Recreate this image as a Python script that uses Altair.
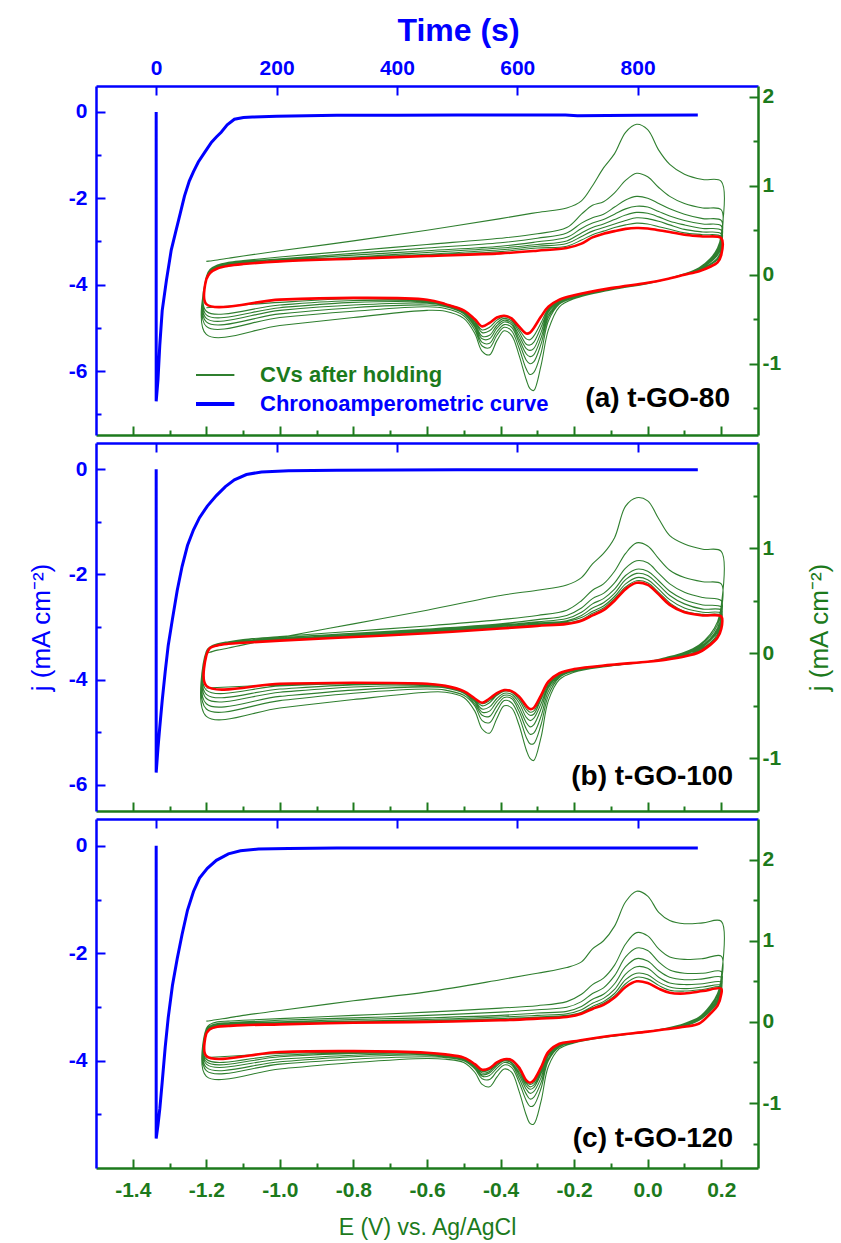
import altair as alt
import pandas as pd

FONT = "Liberation Sans"
BLUE = "#0000ff"
AXIS_GREEN = "#1c7a1c"
CV_GREEN = "#2f7f2f"
RED = "#ff0000"

# ---- axis domains and ticks -------------------------------------------------
TIME_DOMAIN = [-100, 1000]
TIME_TICKS = [0, 200, 400, 600, 800]
E_DOMAIN = [-1.5, 0.3]
E_MAJOR = [-1.4, -1.2, -1.0, -0.8, -0.6, -0.4, -0.2, 0.0, 0.2]
E_MINOR = [-1.3, -1.1, -0.9, -0.7, -0.5, -0.3, -0.1, 0.1]
LEFT_DOMAINS = [[-7.48, 0.6], [-6.5, 0.5], [-6.0, 0.5]]
LEFT_MAJOR = [[-6, -4, -2, 0], [-6, -4, -2, 0], [-4, -2, 0]]
LEFT_MINOR = [[-7, -5, -3, -1], [-5, -3, -1], [-5, -3, -1]]
RIGHT_DOMAINS = [[-1.8, 2.12], [-1.5, 2.0], [-1.8, 2.5]]
RIGHT_MAJOR = [[-1, 0, 1, 2], [-1, 0, 1], [-1, 0, 1, 2]]
RIGHT_MINOR = [[-1.5, -0.5, 0.5, 1.5], [-0.5, 0.5, 1.5], [-1.5, -0.5, 0.5, 1.5]]
SAMPLE_LABELS = ["(a) t-GO-80", "(b) t-GO-100", "(c) t-GO-120"]

# ---- chronoamperometric curves (time in s, j in mA cm-2) ---------------------
CA1_T = [0, 0, 3, 6, 10, 17, 25, 32, 40, 47, 55, 62, 70, 80, 92, 100, 108, 118,
         130, 145, 160, 200, 250, 300, 400, 500, 600, 680, 700, 800, 900]
CA1_J = [0, -6.7, -6.2, -5.4, -4.6, -3.9, -3.2, -2.8, -2.35, -1.95, -1.6, -1.38,
         -1.16, -0.95, -0.70, -0.58, -0.47, -0.30, -0.17, -0.13, -0.12, -0.10,
         -0.09, -0.08, -0.08, -0.07, -0.07, -0.07, -0.09, -0.08, -0.07]
CA2_T = [0, 0, 3, 6, 10, 15, 20, 27, 35, 43, 52, 62, 72, 85, 100, 115, 130, 150,
         175, 220, 300, 500, 700, 900]
CA2_J = [0, -5.77, -5.3, -4.9, -4.4, -3.85, -3.35, -2.85, -2.3, -1.85, -1.45,
         -1.15, -0.92, -0.70, -0.50, -0.33, -0.20, -0.10, -0.05, -0.03, -0.02,
         -0.01, -0.01, -0.01]
CA3_T = [0, 0, 3, 6, 10, 15, 20, 27, 35, 43, 52, 62, 72, 85, 100, 120, 140, 170,
         220, 300, 500, 700, 900]
CA3_J = [0, -5.45, -5.2, -4.9, -4.4, -3.75, -3.2, -2.6, -2.1, -1.65, -1.2, -0.85,
         -0.6, -0.42, -0.27, -0.15, -0.09, -0.06, -0.05, -0.04, -0.04, -0.04, -0.04]

# ---- CV potential grids (V vs. Ag/AgCl) --------------------------------------
E_ANODIC = [-1.2, -1.19, -1.17, -1.14, -1.1, -1.0, -0.8, -0.6, -0.4, -0.3, -0.22,
            -0.18, -0.15, -0.12, -0.09, -0.06, -0.03, 0.0, 0.03, 0.06, 0.1, 0.15, 0.2]
E_CATHODIC = [0.2, 0.19, 0.17, 0.14, 0.1, 0.05, 0.0, -0.1, -0.2, -0.24, -0.27,
              -0.29, -0.31, -0.32, -0.33, -0.35, -0.37, -0.39, -0.41, -0.43, -0.45,
              -0.47, -0.5, -0.55, -0.6, -0.8, -1.0, -1.2]

# CV current densities, one row per cycle (first seven green, last one red)
P1_ANODIC = [
    [0.15, 0.155, 0.165, 0.185, 0.21, 0.27, 0.38, 0.50, 0.63, 0.70, 0.75, 0.83, 1.00, 1.20, 1.36, 1.60, 1.69, 1.63, 1.40, 1.24, 1.13, 1.07, 1.05],
    [-0.02, 0.06, 0.11, 0.14, 0.16, 0.20, 0.27, 0.34, 0.41, 0.46, 0.53, 0.68, 0.78, 0.82, 0.92, 1.06, 1.14, 1.10, 0.98, 0.88, 0.80, 0.75, 0.73],
    [-0.03, 0.05, 0.10, 0.13, 0.15, 0.18, 0.24, 0.30, 0.36, 0.41, 0.47, 0.58, 0.64, 0.68, 0.76, 0.84, 0.88, 0.86, 0.80, 0.74, 0.68, 0.63, 0.61],
    [-0.04, 0.04, 0.09, 0.12, 0.14, 0.17, 0.22, 0.27, 0.32, 0.37, 0.42, 0.52, 0.58, 0.62, 0.68, 0.74, 0.77, 0.76, 0.71, 0.66, 0.61, 0.57, 0.55],
    [-0.04, 0.03, 0.08, 0.11, 0.13, 0.16, 0.20, 0.25, 0.30, 0.34, 0.38, 0.47, 0.53, 0.57, 0.62, 0.67, 0.70, 0.69, 0.65, 0.60, 0.56, 0.52, 0.50],
    [-0.05, 0.03, 0.08, 0.11, 0.13, 0.155, 0.19, 0.23, 0.28, 0.32, 0.35, 0.43, 0.49, 0.53, 0.57, 0.61, 0.64, 0.63, 0.60, 0.56, 0.51, 0.48, 0.46],
    [-0.05, 0.02, 0.07, 0.10, 0.12, 0.15, 0.185, 0.22, 0.26, 0.30, 0.32, 0.39, 0.45, 0.49, 0.53, 0.56, 0.58, 0.57, 0.54, 0.51, 0.47, 0.45, 0.43],
    [-0.05, 0.02, 0.07, 0.10, 0.12, 0.15, 0.18, 0.21, 0.24, 0.27, 0.30, 0.35, 0.42, 0.46, 0.49, 0.515, 0.525, 0.52, 0.50, 0.48, 0.45, 0.43, 0.41],
]
P1_CATHODIC = [
    [0.45, 0.30, 0.18, 0.08, 0.01, -0.05, -0.10, -0.17, -0.27, -0.36, -0.62, -1.02, -1.30, -1.28, -1.18, -0.90, -0.68, -0.63, -0.74, -0.90, -0.86, -0.66, -0.49, -0.41, -0.40, -0.48, -0.57, -0.67],
    [0.42, 0.28, 0.17, 0.07, 0.01, -0.05, -0.10, -0.16, -0.26, -0.33, -0.52, -0.88, -1.10, -1.12, -1.06, -0.82, -0.63, -0.59, -0.68, -0.82, -0.80, -0.62, -0.46, -0.38, -0.36, -0.41, -0.48, -0.58],
    [0.38, 0.26, 0.16, 0.07, 0.01, -0.05, -0.10, -0.16, -0.25, -0.32, -0.48, -0.78, -0.98, -1.00, -0.96, -0.76, -0.59, -0.56, -0.64, -0.77, -0.76, -0.59, -0.44, -0.36, -0.34, -0.37, -0.44, -0.53],
    [0.35, 0.24, 0.15, 0.06, 0.01, -0.05, -0.10, -0.16, -0.25, -0.31, -0.45, -0.71, -0.90, -0.92, -0.89, -0.72, -0.56, -0.53, -0.60, -0.72, -0.72, -0.57, -0.43, -0.35, -0.32, -0.34, -0.40, -0.49],
    [0.32, 0.22, 0.14, 0.06, 0.00, -0.05, -0.10, -0.16, -0.24, -0.30, -0.42, -0.65, -0.83, -0.85, -0.83, -0.68, -0.54, -0.51, -0.57, -0.68, -0.69, -0.55, -0.42, -0.34, -0.31, -0.31, -0.37, -0.45],
    [0.29, 0.19, 0.12, 0.05, 0.00, -0.05, -0.09, -0.16, -0.24, -0.29, -0.40, -0.59, -0.76, -0.79, -0.78, -0.64, -0.52, -0.49, -0.54, -0.63, -0.65, -0.53, -0.41, -0.34, -0.30, -0.29, -0.34, -0.41],
    [0.26, 0.17, 0.11, 0.05, 0.00, -0.05, -0.09, -0.15, -0.23, -0.29, -0.38, -0.54, -0.69, -0.73, -0.72, -0.61, -0.50, -0.47, -0.51, -0.59, -0.62, -0.52, -0.40, -0.33, -0.29, -0.27, -0.31, -0.37],
    [0.22, 0.14, 0.09, 0.04, 0.00, -0.05, -0.09, -0.15, -0.23, -0.28, -0.36, -0.47, -0.60, -0.65, -0.66, -0.58, -0.49, -0.46, -0.48, -0.54, -0.58, -0.50, -0.40, -0.33, -0.28, -0.26, -0.28, -0.33],
]
P2_ANODIC = [
    [0.0, 0.01, 0.03, 0.05, 0.08, 0.15, 0.28, 0.41, 0.55, 0.60, 0.65, 0.72, 0.85, 0.95, 1.10, 1.40, 1.48, 1.45, 1.28, 1.12, 1.04, 0.99, 0.97],
    [0.02, 0.06, 0.09, 0.11, 0.13, 0.16, 0.21, 0.26, 0.32, 0.36, 0.41, 0.50, 0.60, 0.66, 0.78, 0.95, 1.05, 1.02, 0.90, 0.79, 0.72, 0.68, 0.66],
    [0.01, 0.06, 0.09, 0.11, 0.12, 0.15, 0.19, 0.23, 0.28, 0.32, 0.36, 0.43, 0.52, 0.57, 0.67, 0.81, 0.88, 0.86, 0.76, 0.66, 0.58, 0.53, 0.50],
    [0.01, 0.05, 0.08, 0.10, 0.115, 0.14, 0.18, 0.22, 0.27, 0.30, 0.33, 0.39, 0.47, 0.52, 0.61, 0.74, 0.80, 0.78, 0.69, 0.59, 0.51, 0.46, 0.44],
    [0.0, 0.05, 0.08, 0.10, 0.11, 0.135, 0.17, 0.21, 0.26, 0.29, 0.31, 0.36, 0.43, 0.48, 0.57, 0.70, 0.76, 0.74, 0.65, 0.55, 0.47, 0.42, 0.41],
    [0.0, 0.05, 0.08, 0.095, 0.105, 0.13, 0.165, 0.205, 0.25, 0.28, 0.30, 0.34, 0.40, 0.45, 0.54, 0.66, 0.72, 0.70, 0.61, 0.51, 0.43, 0.39, 0.38],
    [0.0, 0.05, 0.075, 0.09, 0.10, 0.125, 0.16, 0.20, 0.245, 0.27, 0.29, 0.32, 0.38, 0.43, 0.52, 0.63, 0.69, 0.67, 0.58, 0.48, 0.40, 0.37, 0.36],
    [-0.02, 0.05, 0.075, 0.09, 0.10, 0.12, 0.155, 0.19, 0.235, 0.26, 0.28, 0.31, 0.36, 0.41, 0.50, 0.61, 0.67, 0.65, 0.56, 0.46, 0.39, 0.36, 0.35],
]
P2_CATHODIC = [
    [0.45, 0.30, 0.18, 0.08, 0.01, -0.04, -0.08, -0.12, -0.18, -0.25, -0.45, -0.80, -1.02, -1.00, -0.92, -0.68, -0.52, -0.50, -0.62, -0.76, -0.72, -0.55, -0.42, -0.37, -0.37, -0.44, -0.52, -0.60],
    [0.40, 0.27, 0.16, 0.07, 0.00, -0.05, -0.08, -0.12, -0.17, -0.23, -0.40, -0.68, -0.86, -0.86, -0.80, -0.60, -0.47, -0.45, -0.55, -0.66, -0.64, -0.50, -0.40, -0.35, -0.34, -0.38, -0.45, -0.53],
    [0.35, 0.24, 0.14, 0.06, 0.00, -0.05, -0.08, -0.12, -0.17, -0.22, -0.36, -0.60, -0.76, -0.77, -0.72, -0.55, -0.43, -0.42, -0.50, -0.60, -0.59, -0.48, -0.38, -0.33, -0.32, -0.35, -0.41, -0.48],
    [0.32, 0.22, 0.13, 0.05, -0.01, -0.05, -0.08, -0.11, -0.16, -0.21, -0.33, -0.53, -0.68, -0.70, -0.66, -0.51, -0.41, -0.40, -0.46, -0.55, -0.56, -0.46, -0.37, -0.32, -0.31, -0.32, -0.37, -0.43],
    [0.29, 0.20, 0.12, 0.04, -0.01, -0.05, -0.08, -0.11, -0.16, -0.20, -0.31, -0.48, -0.62, -0.64, -0.61, -0.47, -0.39, -0.38, -0.43, -0.51, -0.53, -0.45, -0.37, -0.32, -0.30, -0.30, -0.34, -0.39],
    [0.27, 0.18, 0.10, 0.03, -0.02, -0.05, -0.08, -0.11, -0.16, -0.20, -0.29, -0.44, -0.58, -0.59, -0.56, -0.44, -0.37, -0.36, -0.40, -0.47, -0.50, -0.44, -0.36, -0.31, -0.29, -0.29, -0.31, -0.35],
    [0.25, 0.16, 0.09, 0.02, -0.02, -0.06, -0.08, -0.11, -0.15, -0.19, -0.28, -0.42, -0.55, -0.56, -0.53, -0.42, -0.36, -0.35, -0.39, -0.45, -0.48, -0.43, -0.36, -0.31, -0.29, -0.28, -0.30, -0.33],
    [0.23, 0.15, 0.08, 0.01, -0.03, -0.06, -0.08, -0.11, -0.15, -0.19, -0.27, -0.40, -0.52, -0.53, -0.50, -0.41, -0.36, -0.35, -0.38, -0.43, -0.47, -0.43, -0.36, -0.31, -0.29, -0.28, -0.29, -0.31],
]
P3_ANODIC = [
    [0.01, 0.015, 0.03, 0.05, 0.08, 0.14, 0.26, 0.37, 0.52, 0.60, 0.67, 0.74, 0.90, 1.00, 1.18, 1.48, 1.61, 1.55, 1.35, 1.25, 1.21, 1.22, 1.24],
    [-0.08, -0.03, 0.0, 0.01, 0.02, 0.04, 0.08, 0.12, 0.17, 0.20, 0.25, 0.34, 0.46, 0.54, 0.70, 0.96, 1.10, 1.06, 0.90, 0.80, 0.77, 0.78, 0.81],
    [-0.09, -0.05, -0.02, -0.01, 0.0, 0.02, 0.05, 0.08, 0.12, 0.15, 0.18, 0.25, 0.35, 0.42, 0.57, 0.80, 0.91, 0.88, 0.74, 0.64, 0.60, 0.60, 0.62],
    [-0.10, -0.06, -0.03, -0.02, -0.01, 0.0, 0.03, 0.05, 0.08, 0.11, 0.13, 0.19, 0.28, 0.34, 0.47, 0.68, 0.78, 0.75, 0.63, 0.55, 0.52, 0.53, 0.55],
    [-0.11, -0.07, -0.04, -0.03, -0.02, -0.01, 0.01, 0.03, 0.06, 0.08, 0.10, 0.15, 0.23, 0.29, 0.40, 0.59, 0.68, 0.66, 0.55, 0.48, 0.46, 0.47, 0.49],
    [-0.12, -0.08, -0.05, -0.04, -0.03, -0.02, 0.0, 0.015, 0.04, 0.06, 0.08, 0.12, 0.19, 0.25, 0.35, 0.52, 0.60, 0.58, 0.49, 0.43, 0.41, 0.43, 0.45],
    [-0.13, -0.09, -0.06, -0.045, -0.035, -0.025, -0.005, 0.005, 0.03, 0.05, 0.07, 0.11, 0.17, 0.23, 0.32, 0.47, 0.55, 0.53, 0.45, 0.39, 0.38, 0.40, 0.43],
    [-0.14, -0.09, -0.06, -0.05, -0.04, -0.03, -0.01, 0.0, 0.02, 0.04, 0.06, 0.10, 0.16, 0.21, 0.30, 0.43, 0.50, 0.48, 0.41, 0.36, 0.35, 0.38, 0.41],
]
P3_CATHODIC = [
    [0.55, 0.35, 0.20, 0.06, -0.02, -0.08, -0.12, -0.18, -0.26, -0.33, -0.55, -0.98, -1.26, -1.25, -1.15, -0.85, -0.62, -0.58, -0.68, -0.80, -0.77, -0.62, -0.50, -0.46, -0.45, -0.50, -0.58, -0.67],
    [0.48, 0.32, 0.18, 0.05, -0.03, -0.08, -0.12, -0.18, -0.25, -0.31, -0.48, -0.82, -1.03, -1.04, -0.97, -0.74, -0.56, -0.53, -0.61, -0.71, -0.70, -0.58, -0.48, -0.44, -0.43, -0.46, -0.52, -0.60],
    [0.43, 0.29, 0.16, 0.04, -0.03, -0.08, -0.12, -0.17, -0.25, -0.30, -0.45, -0.75, -0.93, -0.95, -0.89, -0.69, -0.53, -0.50, -0.57, -0.66, -0.67, -0.56, -0.47, -0.43, -0.41, -0.43, -0.49, -0.56],
    [0.40, 0.27, 0.15, 0.03, -0.04, -0.08, -0.12, -0.17, -0.24, -0.29, -0.42, -0.69, -0.86, -0.88, -0.83, -0.65, -0.51, -0.48, -0.54, -0.63, -0.65, -0.55, -0.46, -0.42, -0.40, -0.41, -0.46, -0.52],
    [0.38, 0.25, 0.14, 0.03, -0.04, -0.08, -0.12, -0.17, -0.24, -0.28, -0.40, -0.64, -0.81, -0.83, -0.79, -0.62, -0.50, -0.47, -0.52, -0.61, -0.63, -0.54, -0.45, -0.41, -0.39, -0.39, -0.43, -0.49],
    [0.36, 0.24, 0.13, 0.02, -0.04, -0.08, -0.12, -0.17, -0.24, -0.28, -0.39, -0.61, -0.78, -0.80, -0.76, -0.59, -0.48, -0.46, -0.51, -0.59, -0.61, -0.53, -0.45, -0.41, -0.39, -0.38, -0.41, -0.46],
    [0.34, 0.23, 0.13, 0.02, -0.05, -0.09, -0.12, -0.17, -0.24, -0.27, -0.38, -0.58, -0.75, -0.77, -0.74, -0.57, -0.47, -0.46, -0.50, -0.58, -0.60, -0.52, -0.44, -0.40, -0.38, -0.37, -0.39, -0.44],
    [0.34, 0.20, 0.10, -0.02, -0.06, -0.09, -0.12, -0.17, -0.24, -0.27, -0.37, -0.56, -0.72, -0.75, -0.72, -0.56, -0.47, -0.46, -0.50, -0.57, -0.59, -0.52, -0.44, -0.40, -0.38, -0.36, -0.37, -0.42],
]

CA_SERIES = [(CA1_T, CA1_J), (CA2_T, CA2_J), (CA3_T, CA3_J)]
CV_SERIES = [(P1_ANODIC, P1_CATHODIC), (P2_ANODIC, P2_CATHODIC), (P3_ANODIC, P3_CATHODIC)]

# layout of the three stacked panels
PLOT_W = 662
PANEL_H = [349, 368, 349]
LABEL_POS = [(634, 313), (637, 334), (637, 320)]
MAJOR_TICK = {"expr": "-9"}
MINOR_TICK = {"expr": "-5"}
MINUS_FIX = "replace(format(datum.value, '%s'), '\u2212', '-')"

LEGEND_CV = "CVs after holding"
LEGEND_CA = "Chronoamperometric curve"
J_TITLE = "j (mA cm\u207b\u00b2)"


def ca_frame(times, currents):
    df = pd.DataFrame({"t": times, "j": currents, "k": range(len(times))})
    df["series"] = LEGEND_CA
    return df


def cv_frames(anodic, cathodic):
    """Green path: all early cycles joined in sweep order; red path: last cycle."""
    sweep = E_ANODIC + E_CATHODIC
    green = []
    for a_row, c_row in zip(anodic[:-1], cathodic[:-1]):
        green.extend(zip(sweep, a_row + c_row))
    red = list(zip(sweep, anodic[-1] + cathodic[-1]))
    red.append(red[0])
    g = pd.DataFrame(green, columns=["E", "j"])
    g["k"] = range(len(g))
    g["series"] = LEGEND_CV
    r = pd.DataFrame(red, columns=["E", "j"])
    r["k"] = range(len(r))
    return g, r


def base_axis(color):
    return dict(grid=False, domainColor=color, domainWidth=2.5, tickColor=color,
                tickWidth=2, tickSize=MAJOR_TICK, labelColor=color,
                labelFont=FONT, labelFontWeight="bold", labelFontSize=21,
                titleColor=color, titleFont=FONT)


def minor_axis(color, orient, values):
    return alt.Axis(orient=orient, values=values, labels=False, domain=False,
                    grid=False, tickColor=color, tickWidth=2, tickSize=MINOR_TICK,
                    title=None)


def time_axis(i):
    kw = base_axis(BLUE)
    kw.update(orient="top", values=TIME_TICKS)
    if i == 0:
        kw.update(title="Time (s)", titleFontSize=32, titleFontWeight="bold",
                  labelPadding=17, titlePadding=10, format="d",
                  titleX=362, titleAlign="center")
    else:
        kw.update(labels=False, title=None)
    return alt.Axis(**kw)


def left_axis(i):
    kw = base_axis(BLUE)
    kw.update(orient="left", values=LEFT_MAJOR[i], labelPadding=18,
              labelExpr=MINUS_FIX % "d")
    if i == 1:
        kw.update(title=J_TITLE, titleFontSize=26, titleFontWeight="normal",
                  titlePadding=14)
    else:
        kw.update(title=None)
    return alt.Axis(**kw)


def right_axis(i):
    kw = base_axis(AXIS_GREEN)
    kw.update(orient="right", values=RIGHT_MAJOR[i], labelPadding=13,
              labelExpr=MINUS_FIX % "d")
    if i == 1:
        kw.update(title=J_TITLE, titleFontSize=26, titleFontWeight="normal",
                  titleAngle=270, titlePadding=52)
    else:
        kw.update(title=None)
    return alt.Axis(**kw)


def e_axis(i):
    kw = base_axis(AXIS_GREEN)
    kw.update(orient="bottom", values=E_MAJOR)
    if i == 2:
        kw.update(title="E (V) vs. Ag/AgCl", titleFontSize=23,
                  titleFontWeight="normal", labelPadding=20, titlePadding=16,
                  labelExpr=MINUS_FIX % ".1f")
    else:
        kw.update(labels=False, title=None)
    return alt.Axis(**kw)


def panel(i):
    ca_df = ca_frame(*CA_SERIES[i])
    green_df, red_df = cv_frames(*CV_SERIES[i])

    t_scale = alt.Scale(domain=TIME_DOMAIN, nice=False, zero=False)
    e_scale = alt.Scale(domain=E_DOMAIN, nice=False, zero=False)
    l_scale = alt.Scale(domain=LEFT_DOMAINS[i], nice=False, zero=False)
    r_scale = alt.Scale(domain=RIGHT_DOMAINS[i], nice=False, zero=False)

    x_time = alt.X("t:Q", scale=t_scale, axis=time_axis(i))
    y_left = alt.Y("j:Q", scale=l_scale, axis=left_axis(i))
    x_e = alt.X("E:Q", scale=e_scale, axis=e_axis(i))
    y_right = alt.Y("j:Q", scale=r_scale, axis=right_axis(i))

    ca_enc = dict(x=x_time, y=y_left, order="k:Q")
    green_enc = dict(x=x_e, y=y_right, order="k:Q")
    if i == 0:
        legend = alt.Legend(
            orient="none", legendX=100, legendY=278, title=None,
            symbolType="stroke", symbolSize=3000,
            symbolStrokeWidth={"expr": "datum.value == '%s' ? 2 : 4" % LEGEND_CV},
            clipHeight=22, rowPadding=7, labelOffset=42, padding=0,
            labelLimit=500, labelFont=FONT, labelFontSize=22,
            labelFontWeight="bold",
            labelColor={"expr": "datum.value == '%s' ? '%s' : '%s'" % (LEGEND_CV, AXIS_GREEN, BLUE)},
        )
        scale = alt.Scale(domain=[LEGEND_CV, LEGEND_CA], range=[CV_GREEN, BLUE])
        ca_enc["stroke"] = alt.Stroke("series:N", scale=scale, legend=legend)
        green_enc["stroke"] = alt.Stroke("series:N", scale=scale, legend=legend)

    ca = alt.Chart(ca_df).mark_line(color=BLUE, strokeWidth=3).encode(**ca_enc)
    green = alt.Chart(green_df).mark_line(
        color=CV_GREEN, strokeWidth=1.1, interpolate="catmull-rom"
    ).encode(**green_enc)
    red = alt.Chart(red_df).mark_line(
        color=RED, strokeWidth=2.6, interpolate="catmull-rom"
    ).encode(x=x_e, y=y_right, order="k:Q")
    lx, ly = LABEL_POS[i]
    label = alt.Chart(pd.DataFrame({"s": [SAMPLE_LABELS[i]]})).mark_text(
        font=FONT, fontSize=28, fontWeight="bold", color="black",
        align="right", baseline="middle"
    ).encode(x=alt.value(lx), y=alt.value(ly), text="s:N")

    # invisible layers that only carry the short (minor) tick marks
    minor_lb = alt.Chart(red_df).mark_point(opacity=0).encode(
        x=alt.X("E:Q", scale=e_scale, axis=minor_axis(AXIS_GREEN, "bottom", E_MINOR)),
        y=alt.Y("j:Q", scale=l_scale, axis=minor_axis(BLUE, "left", LEFT_MINOR[i])),
    )
    minor_r = alt.Chart(red_df).mark_point(opacity=0).encode(
        x=alt.X("E:Q", scale=e_scale, axis=None),
        y=alt.Y("j:Q", scale=r_scale, axis=minor_axis(AXIS_GREEN, "right", RIGHT_MINOR[i])),
    )

    cv = alt.layer(green, red, label)
    return alt.layer(ca, cv, minor_lb, minor_r).resolve_scale(
        x="independent", y="independent"
    ).properties(width=PLOT_W, height=PANEL_H[i])


chart = (
    alt.vconcat(panel(0), panel(1), panel(2), spacing=8, bounds="flush")
    .resolve_scale(stroke="independent")
    .resolve_legend(stroke="independent")
    .properties(padding={"left": 28, "top": 14, "right": 5, "bottom": 5},
                background="white")
    .configure_view(stroke=None)
)

chart.save("out.html", embed_options={"renderer": "svg", "actions": False})
